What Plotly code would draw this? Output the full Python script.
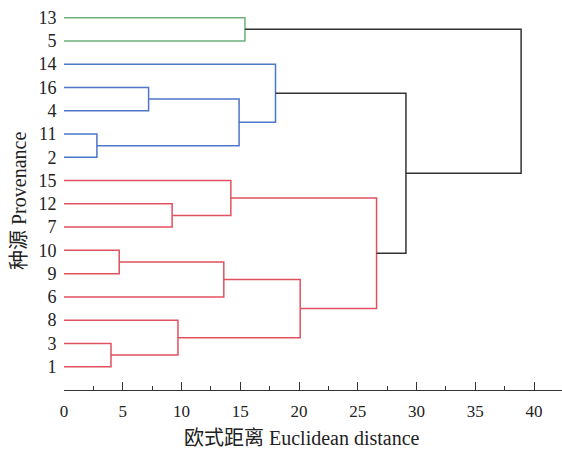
import plotly.graph_objects as go

# Leaf order from top to bottom
leaves = ["13", "5", "14", "16", "4", "11", "2", "15", "12", "7", "10", "9", "6", "8", "3", "1"]

# Merges: node name, child a, child b, merge height (Euclidean distance), group
merge_nodes = ["A", "B", "C", "D", "E", "F", "G", "H", "I", "J", "K", "L", "M", "N", "O"]
merge_a = ["13", "16", "11", "B", "14", "12", "15", "10", "H", "3", "8", "I", "G", "E", "A"]
merge_b = ["5", "4", "2", "C", "D", "7", "F", "9", "6", "1", "J", "K", "L", "M", "N"]
merge_h = [15.4, 7.2, 2.8, 14.9, 18.0, 9.2, 14.2, 4.7, 13.6, 4.0, 9.7, 20.1, 26.6, 29.1, 38.9]
merge_group = ["g", "b", "b", "b", "b", "r", "r", "r", "r", "r", "r", "r", "r", "k", "k"]

colors = {"g": "#6db07c", "b": "#4e76c6", "r": "#e2505f", "k": "#333333"}

n = len(leaves)
ypos = {lab: (n - 1 - i) for i, lab in enumerate(leaves)}
hpos = {lab: 0.0 for lab in leaves}

segs = {k: ([], []) for k in colors}
for node, a, b, h, g in zip(merge_nodes, merge_a, merge_b, merge_h, merge_group):
    ya, yb = ypos[a], ypos[b]
    xs, ys = segs[g]
    xs += [hpos[a], h, h, hpos[b], None]
    ys += [ya, ya, yb, yb, None]
    ypos[node] = (ya + yb) / 2
    hpos[node] = h

fig = go.Figure()
for g in ["r", "b", "g", "k"]:
    xs, ys = segs[g]
    fig.add_trace(go.Scatter(x=xs, y=ys, mode="lines",
                             line=dict(color=colors[g], width=1.5),
                             hoverinfo="skip", showlegend=False))

font = "Liberation Serif, Times New Roman, Noto Sans CJK SC, serif"

fig.update_layout(
    width=562, height=450,
    margin=dict(l=64, r=0, t=6, b=60),
    paper_bgcolor="white", plot_bgcolor="white",
    font=dict(family=font, size=17, color="#222222"),
    showlegend=False,
    xaxis=dict(
        range=[0, 42.38], tick0=0, dtick=5,
        showgrid=False, zeroline=False,
        showline=True, linecolor="#333333", linewidth=1.2,
        ticks="inside", ticklen=8, tickwidth=1.2, tickcolor="#333333",
        minor=dict(dtick=2.5, tick0=0, ticks="inside", ticklen=4, tickwidth=1.2, tickcolor="#333333", showgrid=False),
        tickfont=dict(size=17),
        ticklabelstandoff=5,
    ),
    yaxis=dict(
        range=[-1, 15.5],
        tickvals=[ypos[l] for l in leaves], ticktext=leaves,
        showgrid=False, zeroline=False, showline=False,
        ticks="outside", ticklen=3, tickcolor="rgba(0,0,0,0)",
        tickfont=dict(size=18),
    ),
    annotations=[
        dict(text="欧式距离 Euclidean distance", xref="paper", yref="paper",
             x=(302 - 64) / 498, y=-(438 - 390) / 384, xanchor="center", yanchor="middle",
             showarrow=False, font=dict(size=20)),
        dict(text="种源 Provenance", xref="paper", yref="paper",
             x=-(64 - 19) / 498, y=(390 - 201) / 384, xanchor="center", yanchor="middle",
             textangle=-90, showarrow=False, font=dict(size=20)),
    ],
)

fig.write_html("out.html", config={"displayModeBar": False},
               post_script="document.body.style.margin='0px';document.body.style.overflow='hidden';")
